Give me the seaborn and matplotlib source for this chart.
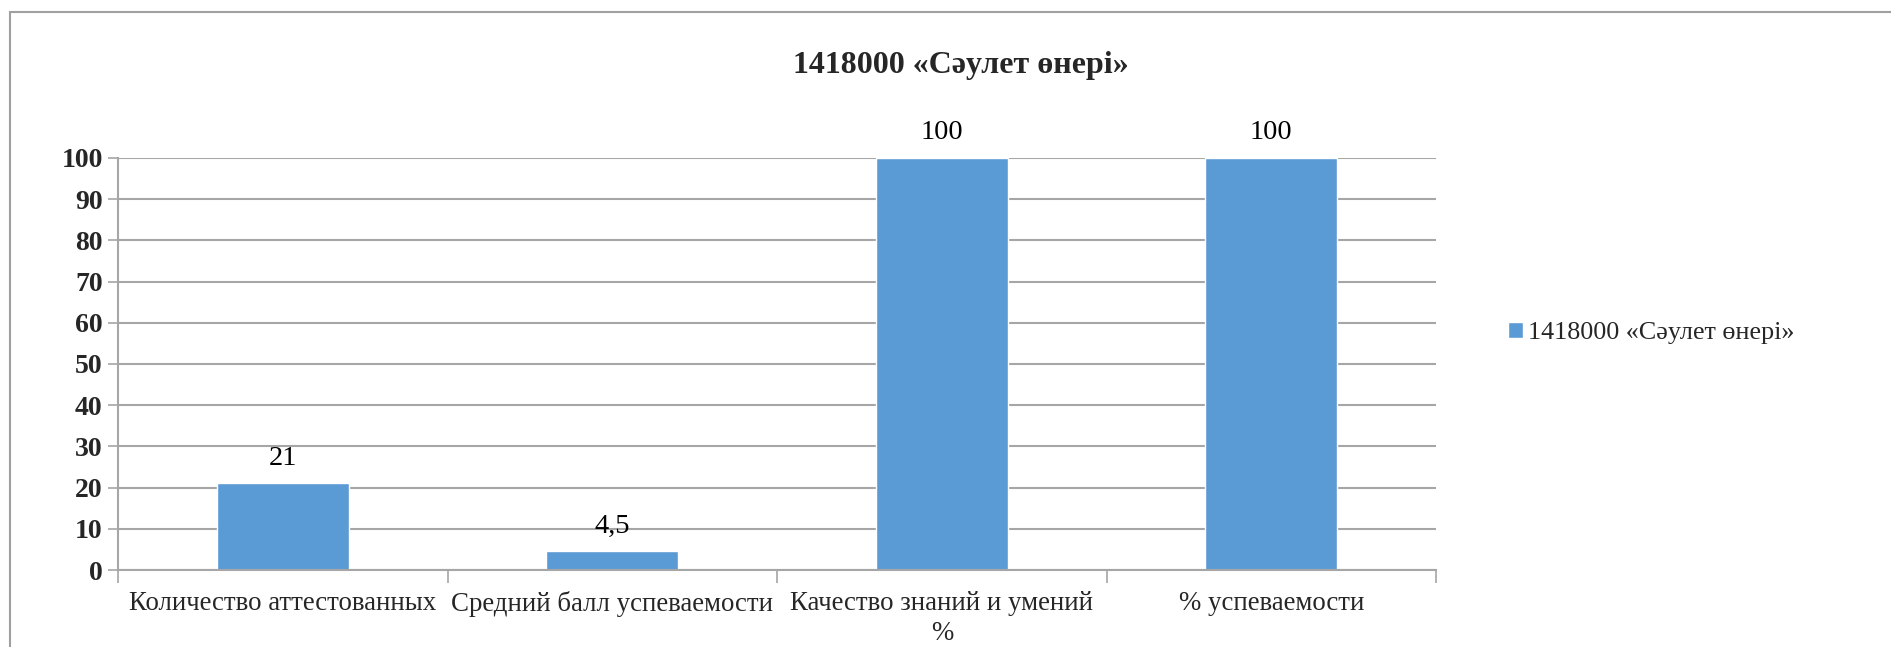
import matplotlib
matplotlib.use("Agg")
import matplotlib.pyplot as plt
import seaborn as sns
import pandas as pd
from matplotlib.patches import Rectangle

# Chart data
categories = [
    "Количество аттестованных",
    "Средний балл успеваемости",
    "Качество знаний и умений\n%",
    "% успеваемости",
]
values = [21, 4.5, 100, 100]
value_labels = ["21", "4,5", "100", "100"]
series_name = "1418000 «Сәулет өнері»"
y_ticks = [0, 10, 20, 30, 40, 50, 60, 70, 80, 90, 100]

sns.set_theme(style="white")
plt.rcParams["font.family"] = ["Liberation Serif", "DejaVu Serif"]

bar_color = "#5B9BD5"
grid_color = "#A6A6A6"

df = pd.DataFrame({"category": categories, "value": values})

fig = plt.figure(figsize=(18.91, 6.47), dpi=100)
ax = fig.add_axes([0.0624, 0.119, 0.697, 0.637])

sns.barplot(data=df, x="category", y="value", color=bar_color, width=0.4,
            saturation=1, label=series_name, ax=ax)

# value labels above bars
for i, (v, txt) in enumerate(zip(values, value_labels)):
    ax.annotate(txt, (i, v), xytext=(0, 9), textcoords="offset points",
                ha="center", va="bottom", fontsize=20.5, color="black")

ax.set_ylim(0, 100)
ax.set_xlim(-0.5, len(categories) - 0.5)
ax.set_yticks(y_ticks)
ax.set_yticklabels([str(t) for t in y_ticks], fontsize=20, fontweight="bold")
ax.set_xticks(range(len(categories)))
ax.set_xticklabels(categories, fontsize=19.4, linespacing=1.25)
ax.set_xlabel("")
ax.set_ylabel("")

# category boundary ticks
ax.set_xticks([i - 0.5 for i in range(len(categories) + 1)], minor=True)
ax.tick_params(axis="x", which="major", length=0, pad=15)
ax.tick_params(axis="x", which="minor", length=9, width=1.2, color=grid_color,
               direction="out", bottom=True)
ax.tick_params(axis="y", which="major", length=7, width=1.2, color=grid_color,
               direction="out", left=True, pad=4)

ax.yaxis.grid(True, color=grid_color, linewidth=1.5)
ax.set_axisbelow(True)
for side in ["top", "right"]:
    ax.spines[side].set_visible(False)
for side in ["left", "bottom"]:
    ax.spines[side].set_color(grid_color)
    ax.spines[side].set_linewidth(1.5)

fig.text(0.508, 0.898, series_name, ha="center", va="center",
         fontsize=23, fontweight="bold")

leg = ax.legend(loc="center left", bbox_to_anchor=(1.037, 0.575), frameon=False,
                fontsize=18.8, handlelength=0.55, handleheight=0.55,
                handletextpad=0.2)

# outer chart frame
fig.patches.append(Rectangle((10 / 1891, -0.05), 1.2, 1 - 12 / 647 + 0.05,
                             transform=fig.transFigure, fill=False,
                             edgecolor="#A0A0A0", linewidth=1.5))

fig.savefig("out.png", dpi=100, facecolor="white")
